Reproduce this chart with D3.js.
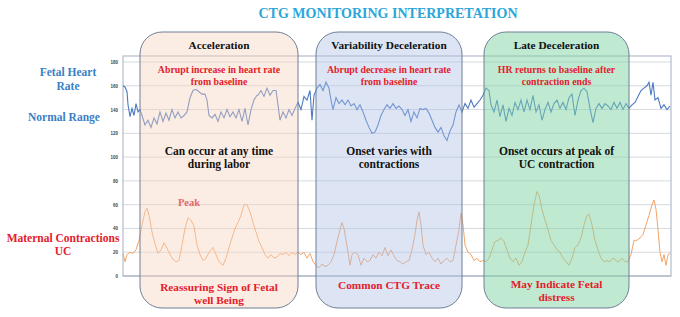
<!DOCTYPE html>
<html><head><meta charset="utf-8">
<script src="https://cdn.jsdelivr.net/npm/d3@7"></script>
<style>body{margin:0;background:#fff}svg{display:block}</style>
</head><body>
<svg id="c" width="680" height="317"></svg>
<script>
// ---- data ----
const yTicks = [0,20,40,60,80,100,120,140,160,180];
const hrT = [0,2,4,5,7,9,11,13,15,17,19,22,25,28,31,34,37,40,43,46,49,52,55,58,61,64,67,70,73,76,79,82,84,86,89,92,95,98,101,104,107,110,113,116,119,122,125,128,131,134,135,138,141,144,147,150,153,155,157,160,163,166,169,172,175,178,181,184,187,189,191,194,197,200,203,206,208,210,213,216,219,222,225,228,231,234,237,240,243,246,249,252,255,258,261,264,267,270,273,276,279,282,285,288,291,294,297,300,303,306,309,312,315,318,321,324,327,330,333,336,339,342,345,348,351,354,357,360,363,366,368,371,374,377,380,383,386,389,392,395,398,401,404,407,410,413,416,419,422,425,428,431,434,437,440,443,446,449,452,455,458,461,464,467,470,473,476,479,482,485,488,491,494,497,500,503,506,509,512,515,518,521,524,526,528,530,532,535,538,541,544,547];
const hrV = [160,159,155,144,134,141,135,145,138,140,135,127,131,125,133,128,138,130,137,131,140,133,138,133,135,138,150,156,157,155,153,153,148,135,133,136,130,138,133,140,134,138,133,140,130,141,127,140,148,152,152,156,151,158,152,156,156,144,131,138,133,140,135,141,146,140,151,148,156,131,152,158,161,156,163,158,148,140,150,145,148,144,148,143,145,140,144,138,131,125,120,121,127,135,140,144,141,145,141,143,140,135,140,130,138,133,141,140,141,137,131,125,121,125,118,114,122,127,138,144,138,145,141,148,142,145,148,152,158,156,144,138,148,134,144,130,141,135,146,140,148,138,148,140,152,138,144,131,140,146,138,145,148,141,146,140,150,153,135,148,156,158,155,141,129,141,145,141,145,143,140,146,141,146,140,145,141,144,146,151,156,158,160,163,152,163,148,150,141,144,140,143];
const ucT = [0,2,4,7,10,13,16,19,22,24,26,29,32,35,38,41,43,46,49,53,56,59,62,65,68,71,74,77,80,83,86,90,93,96,100,103,106,109,112,115,118,121,124,127,130,133,136,139,142,145,148,151,154,157,160,163,166,169,172,175,178,181,184,187,190,193,196,199,202,205,208,211,214,217,219,221,223,225,227,229,232,235,238,241,244,247,250,253,256,259,262,265,268,271,274,277,280,283,286,289,292,294,296,298,300,303,306,309,312,315,318,321,324,327,330,333,336,338,340,342,345,348,351,354,357,360,363,366,369,372,375,378,381,384,387,390,393,396,399,402,405,408,411,414,416,419,422,425,428,431,434,437,440,443,446,449,452,455,458,461,464,466,469,472,475,478,481,484,487,490,493,496,499,502,505,508,511,514,517,520,523,526,529,531,533,535,537,539,541,543,545,547];
const ucV = [19,12,18,20,19,22,30,43,54,57,51,37,27,19,22,28,25,20,15,12,13,26,40,49,47,42,26,18,13,15,20,24,18,12,9,15,24,32,40,45,51,60,60,54,45,37,29,24,18,15,18,15,16,19,18,20,17,20,18,20,18,20,15,19,12,9,7,10,8,9,12,18,29,39,45,40,30,20,9,18,20,18,9,15,12,13,18,15,20,17,24,17,22,17,13,12,10,12,13,22,35,47,54,43,26,18,20,15,12,15,10,13,15,12,13,26,39,53,43,26,20,18,13,15,12,13,12,15,22,29,30,32,29,22,15,12,15,9,12,20,26,43,60,71,68,56,47,39,30,26,22,20,15,12,9,15,24,26,32,43,51,52,43,30,22,15,12,13,12,15,13,12,15,12,12,18,30,30,32,35,43,51,60,64,56,39,20,12,18,9,18,19];
const zoneNames = ["Acceleration","Variability Deceleration","Late Deceleration"];
const zoneStart = [17,193,361];
const zoneEnd = [175,339,506];
const zoneRed = [["Abrupt increase in heart rate","from baseline"],["Abrupt decrease in heart rate","from baseline"],["HR returns to baseline after","contraction ends"]];
const zoneBlack = [["Can occur at any time","during labor"],["Onset varies with","contractions"],["Onset occurs at peak of","UC contraction"]];
const zoneBottom = [["Reassuring Sign of Fetal","well Being"],["Common CTG Trace"],["May Indicate Fetal","distress"]];
const zoneFill = ["rgba(247,212,190,0.42)","rgba(175,192,232,0.42)","rgba(130,212,165,0.5)"];

// ---- drawing ----
const SERIF = "'Liberation Serif', Tinos, 'Times New Roman', Times, serif";
const svg = d3.select("#c");
const L=123, R=671, T=56, B=276;
const x = d3.scaleLinear().domain([0,548]).range([L,R]);
const y = d3.scaleLinear().domain([0,180]).range([B,62]);
function txt(xx,yy,s,size,fill){
  return svg.append("text").attr("x",xx).attr("y",yy).attr("text-anchor","middle")
    .style("font-family",SERIF).style("font-weight","bold").style("font-size",size+"px")
    .attr("fill",fill).text(s);
}

txt(388,18,"CTG MONITORING INTERPRETATION",14,"#2aa6da");

// grid
svg.append("g").selectAll("line").data(yTicks).join("line")
  .attr("x1",L).attr("x2",R).attr("y1",d=>y(d)).attr("y2",d=>y(d))
  .attr("stroke",d=>d===0?"#9aa0aa":"#d6d9de").attr("stroke-width",1);
svg.append("rect").attr("x",L).attr("y",T).attr("width",R-L).attr("height",B-T)
  .attr("fill","none").attr("stroke","#b3bccb").attr("stroke-width",1.2);
const ax = svg.append("g").attr("transform",`translate(${L-3},0)`)
  .call(d3.axisLeft(y).tickValues(yTicks).tickSize(0).tickPadding(2));
ax.select(".domain").remove();
ax.selectAll("text").style("font-size","4.5px").style("font-weight","bold").attr("fill","#444").style("font-family","'Liberation Sans', Arial, sans-serif");

// traces
const line = d3.line().x(d=>x(d[0])).y(d=>y(d[1]));
svg.append("path").datum(hrT.map((t,i)=>[t,hrV[i]])).attr("d",line)
  .attr("fill","none").attr("stroke","#4a79c2").attr("stroke-width",1.1);
svg.append("path").datum(ucT.map((t,i)=>[t,ucV[i]])).attr("d",line)
  .attr("fill","none").attr("stroke","#f2a468").attr("stroke-width",1);

// zones
const BT=32, BB=308;
zoneNames.forEach((n,i)=>{
  const x0=x(zoneStart[i]), x1=x(zoneEnd[i]), cx=(x0+x1)/2;
  svg.append("rect").attr("x",x0).attr("y",BT).attr("width",x1-x0).attr("height",BB-BT)
    .attr("rx",22).attr("ry",22).attr("fill",zoneFill[i]).attr("stroke","#6f7e95").attr("stroke-width",1);
  txt(cx,49,n,11.3,"#111");
  zoneRed[i].forEach((s,j)=>txt(cx,73+j*12,s,9.8,"#e3202b"));
  zoneBlack[i].forEach((s,j)=>txt(cx,155+j*13,s,11.5,"#111"));
  const bb = zoneBottom[i];
  bb.forEach((s,j)=>txt(cx,(bb.length===1?289:288+j*12.5)+(i===0?3:0),s,11.3,"#e3202b"));
});

txt(189,206,"Peak",10.5,"#e06a6a");

// left labels
[["Fetal Heart",76],["Rate",90]].forEach(d=>txt(68,d[1],d[0],11.5,"#3b7fc4"));
txt(64,121,"Normal Range",11.5,"#3b7fc4");
[["Maternal Contractions",242],["UC",255]].forEach(d=>txt(63,d[1],d[0],11.5,"#e3202b"));
</script>
</body></html>
